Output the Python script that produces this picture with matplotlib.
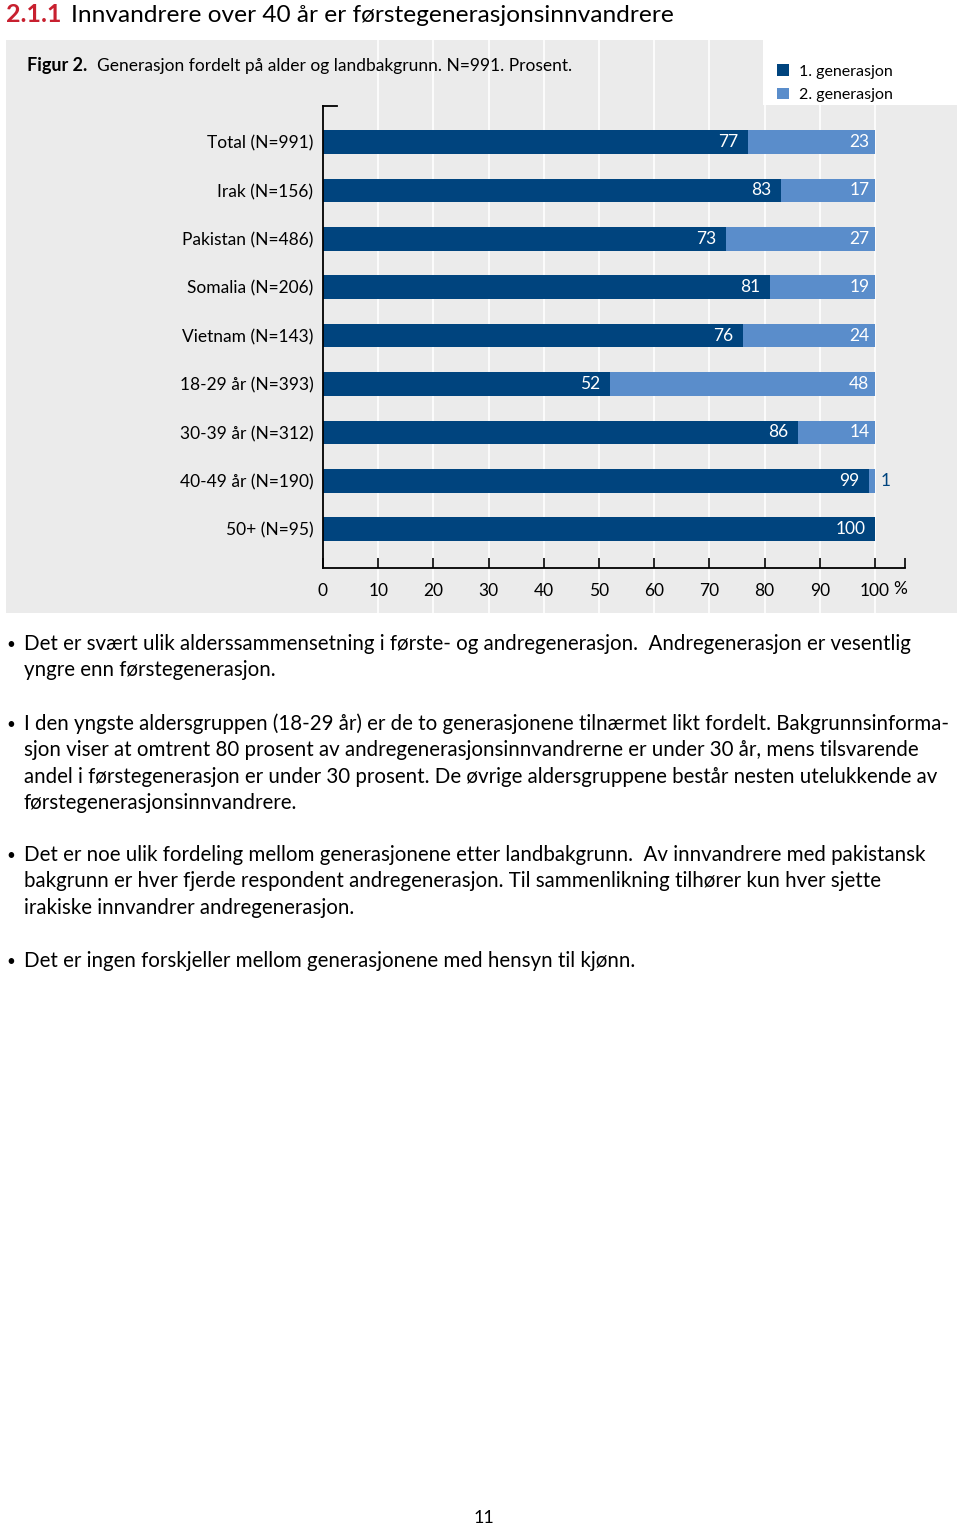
import matplotlib.pyplot as plt
from matplotlib.patches import Rectangle

categories = ["Total (N=991)", "Irak (N=156)", "Pakistan (N=486)", "Somalia (N=206)",
              "Vietnam (N=143)", "18-29 år (N=393)", "30-39 år (N=312)",
              "40-49 år (N=190)", "50+ (N=95)"]
first_gen = [77, 83, 73, 81, 76, 52, 86, 99, 100]
second_gen = [23, 17, 27, 19, 24, 48, 14, 1, 0]
x_ticks = [0, 10, 20, 30, 40, 50, 60, 70, 80, 90, 100]

DARK = "#00447e"
LIGHT = "#5a8dcb"
PANEL = "#ebebeb"
RED = "#c8202f"
FONT = "Lato"

plt.rcParams["font.family"] = [FONT, "DejaVu Sans"]

W, H = 960, 1526
fig = plt.figure(figsize=(W / 100, H / 100), dpi=100)


def fx(x):
    return x / W


def fy(y):
    return 1 - y / H


# panel axes spans the grey box
left, right, top, bottom = 6, 957, 40, 613
ax = fig.add_axes([fx(left), fy(bottom), (right - left) / W, (bottom - top) / H])
ax.set_facecolor(PANEL)

# x: 0 -> px 323, 100 -> px 875
ppu = (875 - 323) / 100
ax.set_xlim((left - 323) / ppu, (right - 323) / ppu)
# y: bar i at px 142 + 48.4 i
step = 48.4
ax.set_ylim((bottom - 142) / step, (top - 142) / step)

ypos = list(range(len(categories)))
ax.barh(ypos, first_gen, height=0.49, color=DARK, zorder=3, label="1. generasjon")
ax.barh(ypos, second_gen, left=first_gen, height=0.49, color=LIGHT, zorder=3,
        label="2. generasjon")

for i, (a, b) in enumerate(zip(first_gen, second_gen)):
    ax.annotate(str(a), (a, i), xytext=(-7, 0), textcoords="offset points",
                ha="right", va="center", color="white", fontsize=12.5, zorder=4)
    if b >= 5:
        ax.annotate(str(b), (a + b, i), xytext=(-4, 0), textcoords="offset points",
                    ha="right", va="center", color="white", fontsize=12.5, zorder=4)
    elif b > 0:
        ax.annotate(str(b), (a + b, i), xytext=(4, 0), textcoords="offset points",
                    ha="left", va="center", color=DARK, fontsize=12.5, zorder=4)

# grid
for t in x_ticks[1:]:
    ax.axvline(t, color="white", lw=1.2, zorder=1)

# white legend area cut out of the panel
ax.add_patch(Rectangle(((763 - 323) / ppu, (top - 142) / step), (right - 763) / ppu,
                       (105 - top) / step, facecolor="white", edgecolor="none", zorder=2))

axis_y = (568 - 142) / step
spine_top = (106 - 142) / step
for s in ["top", "right"]:
    ax.spines[s].set_visible(False)
ax.spines["bottom"].set_position(("data", axis_y))
ax.spines["bottom"].set_bounds(0, (905 - 323) / ppu)
ax.spines["left"].set_position(("data", 0))
ax.spines["left"].set_bounds(axis_y, spine_top)
ax.spines["bottom"].set_linewidth(1.3)
ax.spines["left"].set_linewidth(1.3)
ax.spines["bottom"].set_zorder(5)
ax.spines["left"].set_zorder(5)

ax.set_xticks(x_ticks + [(905 - 323) / ppu])
ax.set_xticklabels([str(t) for t in x_ticks] + [""])
ax.tick_params(axis="x", direction="in", length=7, width=1.2, pad=11, labelsize=12.5)
ax.text(104.5, axis_y + (589 - 568) / step, "%", ha="center", va="center", fontsize=12.5)

ax.set_yticks(ypos)
ax.set_yticklabels(categories)
ax.tick_params(axis="y", length=0, pad=7, labelsize=12.5)
ax.plot([0, (337 - 323) / ppu], [spine_top, spine_top], color="black", lw=1.3,
        clip_on=False, zorder=5)

ax.legend(loc="upper left", bbox_to_anchor=((771 - left) / (right - left), 1 - (58 - top) / (bottom - top)),
          frameon=False, fontsize=11.5, handlelength=0.75, handleheight=0.75,
          handletextpad=0.6, labelspacing=0.55, borderaxespad=0)

# page texts
fig.text(fx(6), fy(15), "2.1.1", color=RED, fontsize=18, fontweight="bold", va="center")
fig.text(fx(71), fy(15), "Innvandrere over 40 år er førstegenerasjonsinnvandrere",
         fontsize=17.6, va="center")
fig.text(fx(27), fy(66), "Figur 2.", fontsize=13, fontweight="bold", va="center")
fig.text(fx(97), fy(66), "Generasjon fordelt på alder og landbakgrunn. N=991. Prosent.",
         fontsize=12.5, va="center")

paragraphs = [
    (644, ["Det er svært ulik alderssammensetning i første- og andregenerasjon.  Andregenerasjon er vesentlig",
           "yngre enn førstegenerasjon."]),
    (724, ["I den yngste aldersgruppen (18-29 år) er de to generasjonene tilnærmet likt fordelt. Bakgrunnsinforma-",
           "sjon viser at omtrent 80 prosent av andregenerasjonsinnvandrerne er under 30 år, mens tilsvarende",
           "andel i førstegenerasjon er under 30 prosent. De øvrige aldersgruppene består nesten utelukkende av",
           "førstegenerasjonsinnvandrere."]),
    (855, ["Det er noe ulik fordeling mellom generasjonene etter landbakgrunn.  Av innvandrere med pakistansk",
           "bakgrunn er hver fjerde respondent andregenerasjon. Til sammenlikning tilhører kun hver sjette",
           "irakiske innvandrer andregenerasjon."]),
    (961, ["Det er ingen forskjeller mellom generasjonene med hensyn til kjønn."]),
]
for y0, lines in paragraphs:
    fig.text(fx(6), fy(y0 + 1), "•", fontsize=11, va="center")
    for k, line in enumerate(lines):
        fig.text(fx(24), fy(y0 + k * 26.4), line, fontsize=14.8, va="center")

fig.text(fx(484), fy(1518), "11", fontsize=13, va="center", ha="center")

fig.savefig("out.png", dpi=100, facecolor="white")
